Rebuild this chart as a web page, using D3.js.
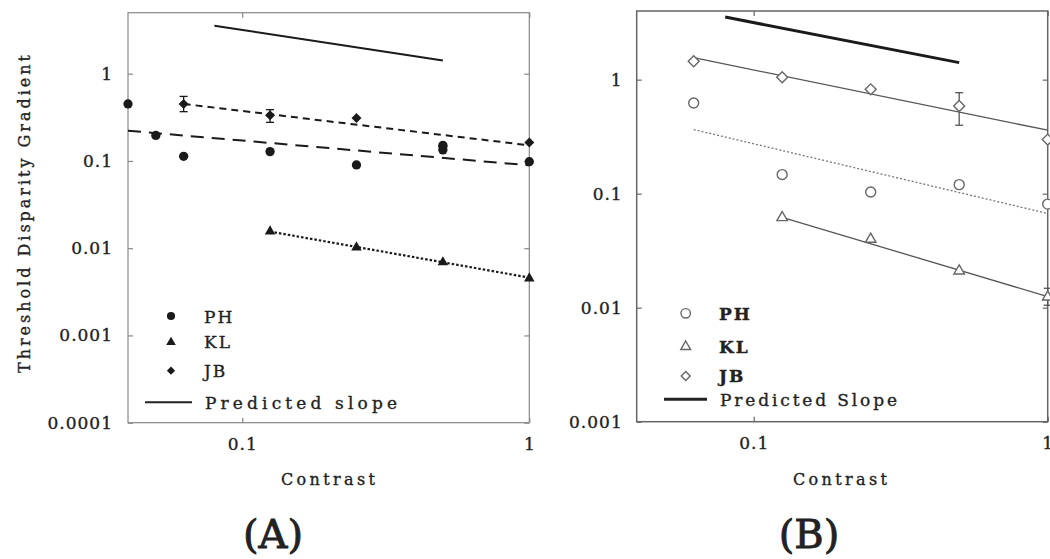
<!DOCTYPE html>
<html>
<head>
<meta charset="utf-8">
<script src="https://cdn.jsdelivr.net/npm/d3@7/dist/d3.min.js"></script>
<style>
  body { margin: 0; background: #fff; }
  text { font-family: "DejaVu Serif", serif; fill: #222; stroke: #222; stroke-width: 0.35px; }
</style>
</head>
<body>
<div id="chart"></div>
<script>
// ---- panel A (filled symbols) ----
const phContrastA = [0.04, 0.05, 0.0625, 0.125, 0.25, 0.5, 0.5, 1];
const phThreshA   = [0.45, 0.196, 0.113, 0.128, 0.09, 0.151, 0.134, 0.098];
const klContrastA = [0.125, 0.25, 0.5, 1];
const klThreshA   = [0.0156, 0.0102, 0.0069, 0.0045];
const jbContrastA = [0.0625, 0.125, 0.25, 0.5, 1];
const jbThreshA   = [0.45, 0.333, 0.31, 0.145, 0.163];
const jbErrContrastA = [0.0625, 0.125];
const jbErrLowA   = [0.367, 0.277];
const jbErrHighA  = [0.549, 0.387];
// fitted lines: [start, end]
const phFitA = { x: [0.04, 1], y: [0.222, 0.089] };
const klFitA = { x: [0.125, 1], y: [0.0155, 0.0046] };
const jbFitA = { x: [0.0625, 1], y: [0.45, 0.151] };
const predA  = { x: [0.08, 0.5], y: [3.55, 1.42] };

// ---- panel B (open symbols) ----
const phContrastB = [0.0625, 0.125, 0.25, 0.5, 1];
const phThreshB   = [0.624, 0.147, 0.1035, 0.12, 0.081];
const klContrastB = [0.125, 0.25, 0.5, 1];
const klThreshB   = [0.0617, 0.0398, 0.021, 0.0124];
const jbContrastB = [0.0625, 0.125, 0.25, 0.5, 1];
const jbThreshB   = [1.45, 1.05, 0.822, 0.587, 0.298];
const errContrastB = [0.5, 1];
const errLowB     = [0.398, 0.0105];
const errHighB    = [0.769, 0.0148];
const phFitB = { x: [0.0625, 1], y: [0.365, 0.067] };
const klFitB = { x: [0.125, 1], y: [0.062, 0.0125] };
const jbFitB = { x: [0.0625, 1], y: [1.56, 0.36] };
const predB  = { x: [0.08, 0.5], y: [3.54, 1.41] };

const xTicks = [0.1, 1];
const yTicksA = [1, 0.1, 0.01, 0.001, 0.0001];
const yTicksB = [1, 0.1, 0.01, 0.001];
const names = ["PH", "KL", "JB"];

function zip(xs, ys) { return xs.map((x, i) => ({ x: x, y: ys[i] })); }

function main() {
    const svg = d3.select("#chart").append("svg")
        .attr("width", 1050)
        .attr("height", 559);

    function panel(opt) {
        const x = d3.scaleLog().domain([0.04, 1]).range(opt.xr);
        const y = d3.scaleLog().domain(opt.yd).range(opt.yr);
        const g = svg.append("g");

        // frame
        g.append("rect")
            .attr("x", opt.xr[0]).attr("y", opt.yr[1])
            .attr("width", opt.xr[1] - opt.xr[0])
            .attr("height", opt.yr[0] - opt.yr[1])
            .style("fill", "none")
            .style("stroke", opt.frame)
            .style("stroke-width", opt.frameW);

        // axes with inward ticks
        const ax = [
            [d3.axisLeft(y).tickValues(opt.yTicks).tickSize(-5).tickPadding(opt.yPad).tickFormat(d => String(d)), "translate(" + opt.xr[0] + ",0)"],
            [d3.axisRight(y).tickValues(opt.yTicks).tickSize(-5).tickFormat(""), "translate(" + opt.xr[1] + ",0)"],
            [d3.axisBottom(x).tickValues(xTicks).tickSize(-5).tickPadding(15).tickFormat(d => String(d)), "translate(0," + opt.yr[0] + ")"],
            [d3.axisTop(x).tickValues(xTicks).tickSize(-5).tickFormat(""), "translate(0," + opt.yr[1] + ")"]
        ];
        ax.forEach(a => {
            const s = g.append("g").attr("transform", a[1]).call(a[0]);
            s.select(".domain").remove();
            s.selectAll("line").style("stroke", opt.frame).style("stroke-width", 1.2);
            s.selectAll("text")
                .style("font-family", "'DejaVu Serif', serif")
                .style("font-size", "17px")
                .style("letter-spacing", "1px")
                .style("fill", "#222")
                .style("stroke", "#222")
                .style("stroke-width", "0.35px");
        });

        const line = d3.line().x(d => x(d.x)).y(d => y(d.y));

        // fits and predicted slope
        opt.lines.forEach(l => {
            g.append("path")
                .datum(zip(l.data.x, l.data.y))
                .attr("d", line)
                .style("fill", "none")
                .style("stroke", l.color)
                .style("stroke-width", l.w)
                .style("stroke-dasharray", l.dash || null);
        });

        // error bars
        opt.errors.forEach(e => {
            const eg = g.append("g").style("stroke", e.color).style("stroke-width", 1.3);
            eg.append("line").attr("x1", x(e.x)).attr("x2", x(e.x)).attr("y1", y(e.lo)).attr("y2", y(e.hi));
            [e.lo, e.hi].forEach(v => {
                eg.append("line").attr("x1", x(e.x) - 4).attr("x2", x(e.x) + 4).attr("y1", y(v)).attr("y2", y(v));
            });
        });

        // points
        opt.series.forEach(s => {
            g.selectAll(null)
                .data(zip(s.xs, s.ys))
                .enter()
                .append("path")
                .attr("d", d3.symbol().type(s.type).size(s.size))
                .attr("transform", d => "translate(" + x(d.x) + "," + y(d.y) + ")" + (s.rot ? " rotate(45)" : ""))
                .style("fill", s.fill)
                .style("stroke", s.stroke)
                .style("stroke-width", s.sw);
        });

        // legend
        const L = opt.legend;
        opt.series.forEach((s, i) => {
            g.append("path")
                .attr("d", d3.symbol().type(s.type).size(s.lsize))
                .attr("transform", "translate(" + L.mx + "," + L.my[i] + ")" + (s.rot ? " rotate(45)" : ""))
                .style("fill", s.fill)
                .style("stroke", s.stroke)
                .style("stroke-width", s.sw);
            g.append("text")
                .attr("x", L.tx).attr("y", L.ty[i])
                .style("font-size", "17px")
                .style("font-weight", L.bold ? "bold" : "normal")
                .style("letter-spacing", "2px")
                .text(names[i]);
        });
        g.append("line")
            .attr("x1", L.lx[0]).attr("x2", L.lx[1])
            .attr("y1", L.ly).attr("y2", L.ly)
            .style("stroke", "#222").style("stroke-width", L.lw);
        g.append("text")
            .attr("x", L.px).attr("y", L.py)
            .attr("textLength", L.pw).attr("lengthAdjust", "spacing")
            .style("font-size", "17px")
            .text(L.label);

        // x title and panel letter
        g.append("text")
            .attr("x", opt.titleX).attr("y", 485)
            .attr("text-anchor", "middle")
            .attr("textLength", 94).attr("lengthAdjust", "spacing")
            .style("font-size", "16px")
            .text("Contrast");
        g.append("text")
            .attr("x", opt.letterX).attr("y", 548)
            .attr("text-anchor", "middle")
            .style("font-size", "40px")
            .style("stroke-width", "0.9px")
            .text(opt.letter);
    }

    const dark = "#1a1a1a";
    panel({
        xr: [128, 529.3], yr: [422.7, 12.7], yd: [0.0001, 5], yTicks: yTicksA, yPad: 15,
        frame: "#888", frameW: 1.2,
        lines: [
            { data: predA, color: dark, w: 2 },
            { data: phFitA, color: dark, w: 2, dash: "13,8" },
            { data: jbFitA, color: dark, w: 2, dash: "7,5" },
            { data: klFitA, color: dark, w: 2.2, dash: "2.5,2" }
        ],
        errors: jbErrContrastA.map((c, i) => ({ x: c, lo: jbErrLowA[i], hi: jbErrHighA[i], color: dark })),
        series: [
            { xs: phContrastA, ys: phThreshA, type: d3.symbolCircle, size: 68, lsize: 52, fill: dark, stroke: "none", sw: 0 },
            { xs: klContrastA, ys: klThreshA, type: d3.symbolTriangle, size: 48, lsize: 40, fill: dark, stroke: "none", sw: 0 },
            { xs: jbContrastA, ys: jbThreshA, type: d3.symbolSquare, rot: true, size: 50, lsize: 34, fill: dark, stroke: "none", sw: 0 }
        ],
        legend: { mx: 171, my: [316, 342.3, 370.7], tx: 204, ty: [322.5, 348, 376.5], bold: false,
                  lx: [145, 192], ly: 402.3, lw: 2, px: 205, py: 409, pw: 192, label: "Predicted slope" },
        titleX: 328, letterX: 273, letter: "(A)"
    });

    const grey = "#555";
    panel({
        xr: [636.7, 1047.7], yr: [421.7, 11], yd: [0.001, 4], yTicks: yTicksB, yPad: 14,
        frame: "#666", frameW: 1.5,
        lines: [
            { data: predB, color: dark, w: 3 },
            { data: jbFitB, color: grey, w: 1.3 },
            { data: klFitB, color: grey, w: 1.3 },
            { data: phFitB, color: "#777", w: 1.3, dash: "2,2" }
        ],
        errors: errContrastB.map((c, i) => ({ x: c, lo: errLowB[i], hi: errHighB[i], color: grey })),
        series: [
            { xs: phContrastB, ys: phThreshB, type: d3.symbolCircle, size: 78, lsize: 70, fill: "#fff", stroke: "#666", sw: 1.4 },
            { xs: klContrastB, ys: klThreshB, type: d3.symbolTriangle, size: 48, lsize: 42, fill: "#fff", stroke: "#666", sw: 1.4 },
            { xs: jbContrastB, ys: jbThreshB, type: d3.symbolSquare, rot: true, size: 60, lsize: 40, fill: "#fff", stroke: "#666", sw: 1.4 }
        ],
        legend: { mx: 685.7, my: [313.3, 346.7, 376], tx: 719, ty: [319.5, 353, 382], bold: true,
                  lx: [664, 707], ly: 399.3, lw: 3, px: 720, py: 406, pw: 177, label: "Predicted Slope" },
        titleX: 840, letterX: 809, letter: "(B)"
    });

    // shared y-axis title (left of panel A)
    svg.append("text")
        .attr("transform", "translate(30,214) rotate(-90)")
        .attr("text-anchor", "middle")
        .attr("textLength", 318).attr("lengthAdjust", "spacing")
        .style("font-size", "16px")
        .text("Threshold Disparity Gradient");
}
main();
</script>
</body>
</html>
